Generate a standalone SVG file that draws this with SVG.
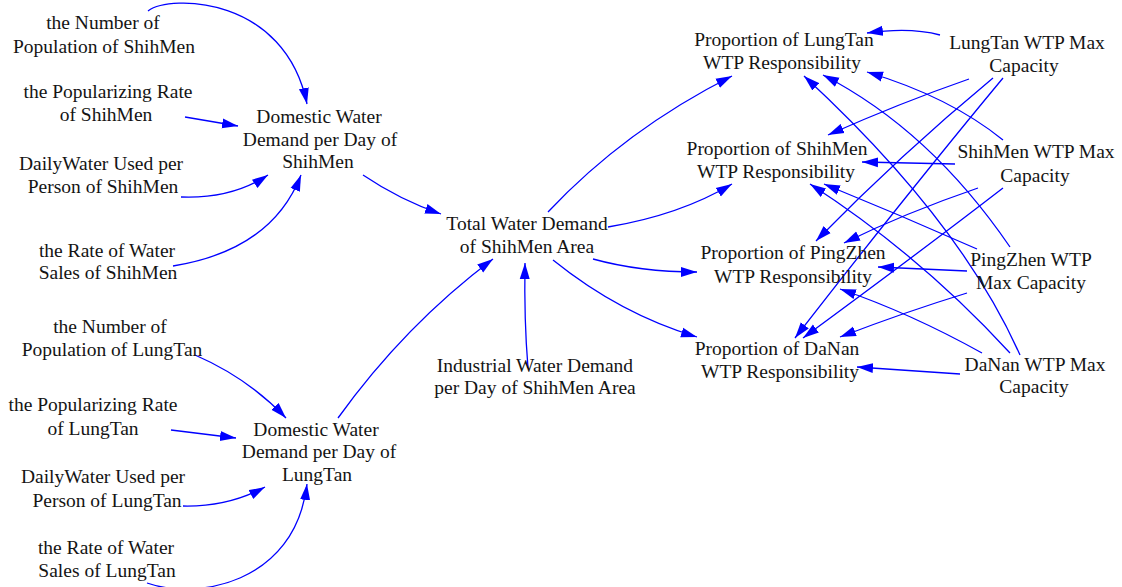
<svg xmlns="http://www.w3.org/2000/svg" width="1122" height="587" viewBox="0 0 1122 587">
  <style>
    text { font-family: "Liberation Serif", "Times New Roman", serif; font-size: 19.5px; fill: #141414; text-anchor: middle; }
    .link { fill: none; stroke: #0000ff; stroke-width: 1.3; marker-end: url(#arrow); }
  </style>
  <defs>
    <marker id="arrow" markerUnits="userSpaceOnUse" markerWidth="16" markerHeight="11" refX="16" refY="5.5" orient="auto" viewBox="0 0 16 11">
      <path d="M0,0.5 L16,5.5 L0,10.5 z" fill="#0000ff"/>
    </marker>
  </defs>
  <rect width="1122" height="587" fill="#ffffff"/>

  <!-- connectors -->
  <g id="connectors">
    <!-- ShihMen domestic demand inputs -->
    <path class="link" d="M148,11 C170,-6 285,-4 307,104"/>
    <path class="link" d="M185,117 L238,126"/>
    <path class="link" d="M181,197 Q232,199 268,175"/>
    <path class="link" d="M173,266 Q272,250 301,175"/>
    <path class="link" d="M363,175 Q400,200 441,214"/>
    <!-- LungTan domestic demand inputs -->
    <path class="link" d="M195,355 Q248,378 286,418"/>
    <path class="link" d="M171,430 L236,438"/>
    <path class="link" d="M183,506 Q228,507 265,487"/>
    <path class="link" d="M147,583 C195,600 295,585 307,484"/>
    <path class="link" d="M338,418 Q405,325 493,259"/>
    <!-- industrial demand -->
    <path class="link" d="M528,368 Q524,320 525,263"/>
    <!-- total demand to WTP proportions -->
    <path class="link" d="M548,212 Q625,130 732,76"/>
    <path class="link" d="M608,227 Q680,215 732,184"/>
    <path class="link" d="M593,259 Q640,272 697,272"/>
    <path class="link" d="M553,260 Q620,314 697,337"/>
    <!-- LungTan WTP max capacity -->
    <path class="link" d="M940,35 Q910,27 867,33"/>
    <path class="link" d="M969,79 Q900,103 828,135"/>
    <path class="link" d="M993,78 Q900,155 816,241"/>
    <path class="link" d="M1003,78 Q910,190 795,338"/>
    <!-- ShihMen WTP max capacity -->
    <path class="link" d="M1003,140 Q950,97 867,72"/>
    <path class="link" d="M955,164 L862,162"/>
    <path class="link" d="M978,188 Q905,213 844,243"/>
    <path class="link" d="M1003,188 Q920,252 803,338"/>
    <!-- PingZhen WTP max capacity -->
    <path class="link" d="M1010,247 Q930,130 823,75"/>
    <path class="link" d="M977,249 Q900,215 824,184"/>
    <path class="link" d="M967,271 L878,267"/>
    <path class="link" d="M967,293 Q905,312 840,337"/>
    <!-- DaNan WTP max capacity -->
    <path class="link" d="M1020,355 Q960,220 804,76"/>
    <path class="link" d="M1010,353 Q920,255 810,184"/>
    <path class="link" d="M982,353 Q910,313 840,289"/>
    <path class="link" d="M960,374 L857,367"/>
  </g>

  <!-- ShihMen inputs -->
  <g id="pop-shihmen"><text x="103" y="29">the Number of</text><text x="104" y="53">Population of ShihMen</text></g>
  <g id="rate-shihmen"><text x="108" y="98">the Popularizing Rate</text><text x="106" y="121">of ShihMen</text></g>
  <g id="daily-shihmen"><text x="101" y="170">DailyWater Used per</text><text x="103" y="193">Person of ShihMen</text></g>
  <g id="sales-shihmen"><text x="107" y="257">the Rate of Water</text><text x="108" y="279">Sales of ShihMen</text></g>
  <g id="domestic-shihmen"><text x="319" y="123">Domestic Water</text><text x="320" y="146">Demand per Day of</text><text x="318" y="168">ShihMen</text></g>

  <!-- LungTan inputs -->
  <g id="pop-lungtan"><text x="110" y="333">the Number of</text><text x="112" y="356">Population of LungTan</text></g>
  <g id="rate-lungtan"><text x="93" y="411">the Popularizing Rate</text><text x="93" y="435">of LungTan</text></g>
  <g id="daily-lungtan"><text x="103" y="483">DailyWater Used per</text><text x="107" y="507">Person of LungTan</text></g>
  <g id="sales-lungtan"><text x="106" y="554">the Rate of Water</text><text x="107" y="577">Sales of LungTan</text></g>
  <g id="domestic-lungtan"><text x="316" y="436">Domestic Water</text><text x="319" y="458">Demand per Day of</text><text x="317" y="481">LungTan</text></g>

  <!-- area totals -->
  <g id="total-demand"><text x="527" y="230">Total Water Demand</text><text x="527" y="253">of ShihMen Area</text></g>
  <g id="industrial-demand"><text x="535" y="372">Industrial Water Demand</text><text x="535" y="394">per Day of ShihMen Area</text></g>

  <!-- WTP responsibility proportions -->
  <g id="prop-lungtan"><text x="784" y="46">Proportion of LungTan</text><text x="782" y="69">WTP Responsibility</text></g>
  <g id="prop-shihmen"><text x="777" y="155">Proportion of ShihMen</text><text x="776" y="178">WTP Responsibility</text></g>
  <g id="prop-pingzhen"><text x="793" y="259">Proportion of PingZhen</text><text x="793" y="283">WTP Responsibility</text></g>
  <g id="prop-danan"><text x="777" y="355">Proportion of DaNan</text><text x="780" y="378">WTP Responsibility</text></g>

  <!-- WTP max capacities -->
  <g id="cap-lungtan"><text x="1027" y="49">LungTan WTP Max</text><text x="1024" y="72">Capacity</text></g>
  <g id="cap-shihmen"><text x="1036" y="158">ShihMen WTP Max</text><text x="1035" y="182">Capacity</text></g>
  <g id="cap-pingzhen"><text x="1031" y="266">PingZhen WTP</text><text x="1031" y="289">Max Capacity</text></g>
  <g id="cap-danan"><text x="1035" y="371">DaNan WTP Max</text><text x="1034" y="393">Capacity</text></g>
</svg>
